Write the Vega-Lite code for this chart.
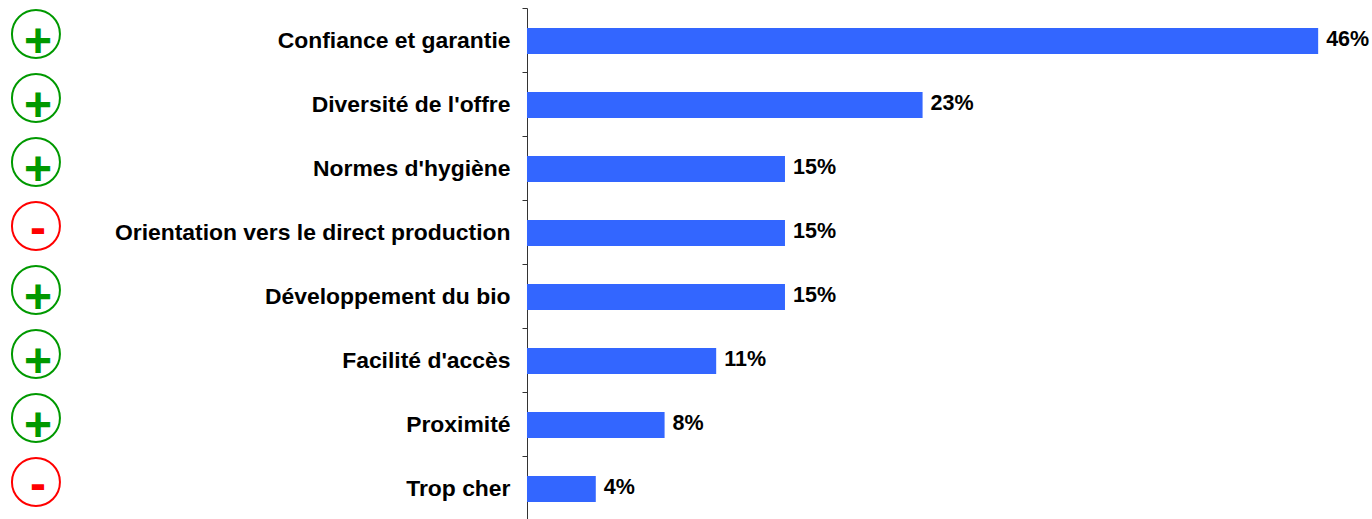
{
  "$schema": "https://vega.github.io/schema/vega-lite/v6.json",
  "width": 1372,
  "height": 512,
  "padding": {"left": 0, "top": 8, "right": 0, "bottom": 0},
  "autosize": {"type": "none"},
  "background": "white",
  "config": {"view": {"stroke": null}},
  "data": {"values": [
    {"critere": "Confiance et garantie", "part": 0.46, "signe": "+"},
    {"critere": "Diversité de l'offre", "part": 0.23, "signe": "+"},
    {"critere": "Normes d'hygiène", "part": 0.15, "signe": "+"},
    {"critere": "Orientation vers le direct production", "part": 0.15, "signe": "-"},
    {"critere": "Développement du bio", "part": 0.15, "signe": "+"},
    {"critere": "Facilité d'accès", "part": 0.11, "signe": "+"},
    {"critere": "Proximité", "part": 0.08, "signe": "+"},
    {"critere": "Trop cher", "part": 0.04, "signe": "-"}
  ]},
  "encoding": {
    "y": {
      "field": "critere", "type": "nominal", "sort": null, "title": null,
      "scale": {"paddingInner": 0, "paddingOuter": 0},
      "axis": {
        "offset": -527, "orient": "left", "labelFont": "Liberation Sans", "labelFontWeight": "bold",
        "labelFontSize": 22.9, "labelColor": "#000000", "labelPadding": 12, "labelLimit": 600,
        "tickSize": 5, "tickColor": "#333333", "domainColor": "#333333", "tickBand": "extent", "grid": false
      }
    }
  },
  "layer": [
    {
      "mark": {"type": "bar", "color": "#3366FF", "size": 26, "yOffset": 1},
      "encoding": {
        "x": {"field": "part", "type": "quantitative", "axis": null, "scale": {"domain": [-0.3064, 0.4913], "nice": false, "zero": false}}
      }
    },
    {
      "mark": {"type": "text", "align": "left", "baseline": "middle", "dx": 8, "font": "Liberation Sans", "fontWeight": "bold", "fontSize": 21.5, "color": "#000000"},
      "encoding": {
        "x": {"field": "part", "type": "quantitative"},
        "text": {"field": "part", "type": "quantitative", "format": ".0%"}
      }
    },
    {
      "mark": {"type": "point", "shape": "circle", "size": 2304, "filled": false, "strokeWidth": 2, "yOffset": -6, "opacity": 1},
      "encoding": {
        "x": {"datum": -0.2855},
        "stroke": {"field": "signe", "type": "nominal", "legend": null, "scale": {"domain": ["+", "-"], "range": ["#009900", "#FF0000"]}}
      }
    },
    {
      "transform": [{"filter": "datum.signe === '+'"}],
      "mark": {"type": "text", "align": "center", "baseline": "middle", "font": "Liberation Sans", "fontWeight": "bold", "fontSize": 48, "dx": 2, "dy": 3, "color": "#009900"},
      "encoding": {
        "x": {"datum": -0.2855},
        "text": {"field": "signe"}
      }
    },
    {
      "transform": [{"filter": "datum.signe === '-'"}],
      "mark": {"type": "text", "align": "center", "baseline": "middle", "font": "Liberation Sans", "fontWeight": "bold", "fontSize": 48, "dx": 2, "dy": -2, "color": "#FF0000"},
      "encoding": {
        "x": {"datum": -0.2855},
        "text": {"field": "signe"}
      }
    }
  ]
}
